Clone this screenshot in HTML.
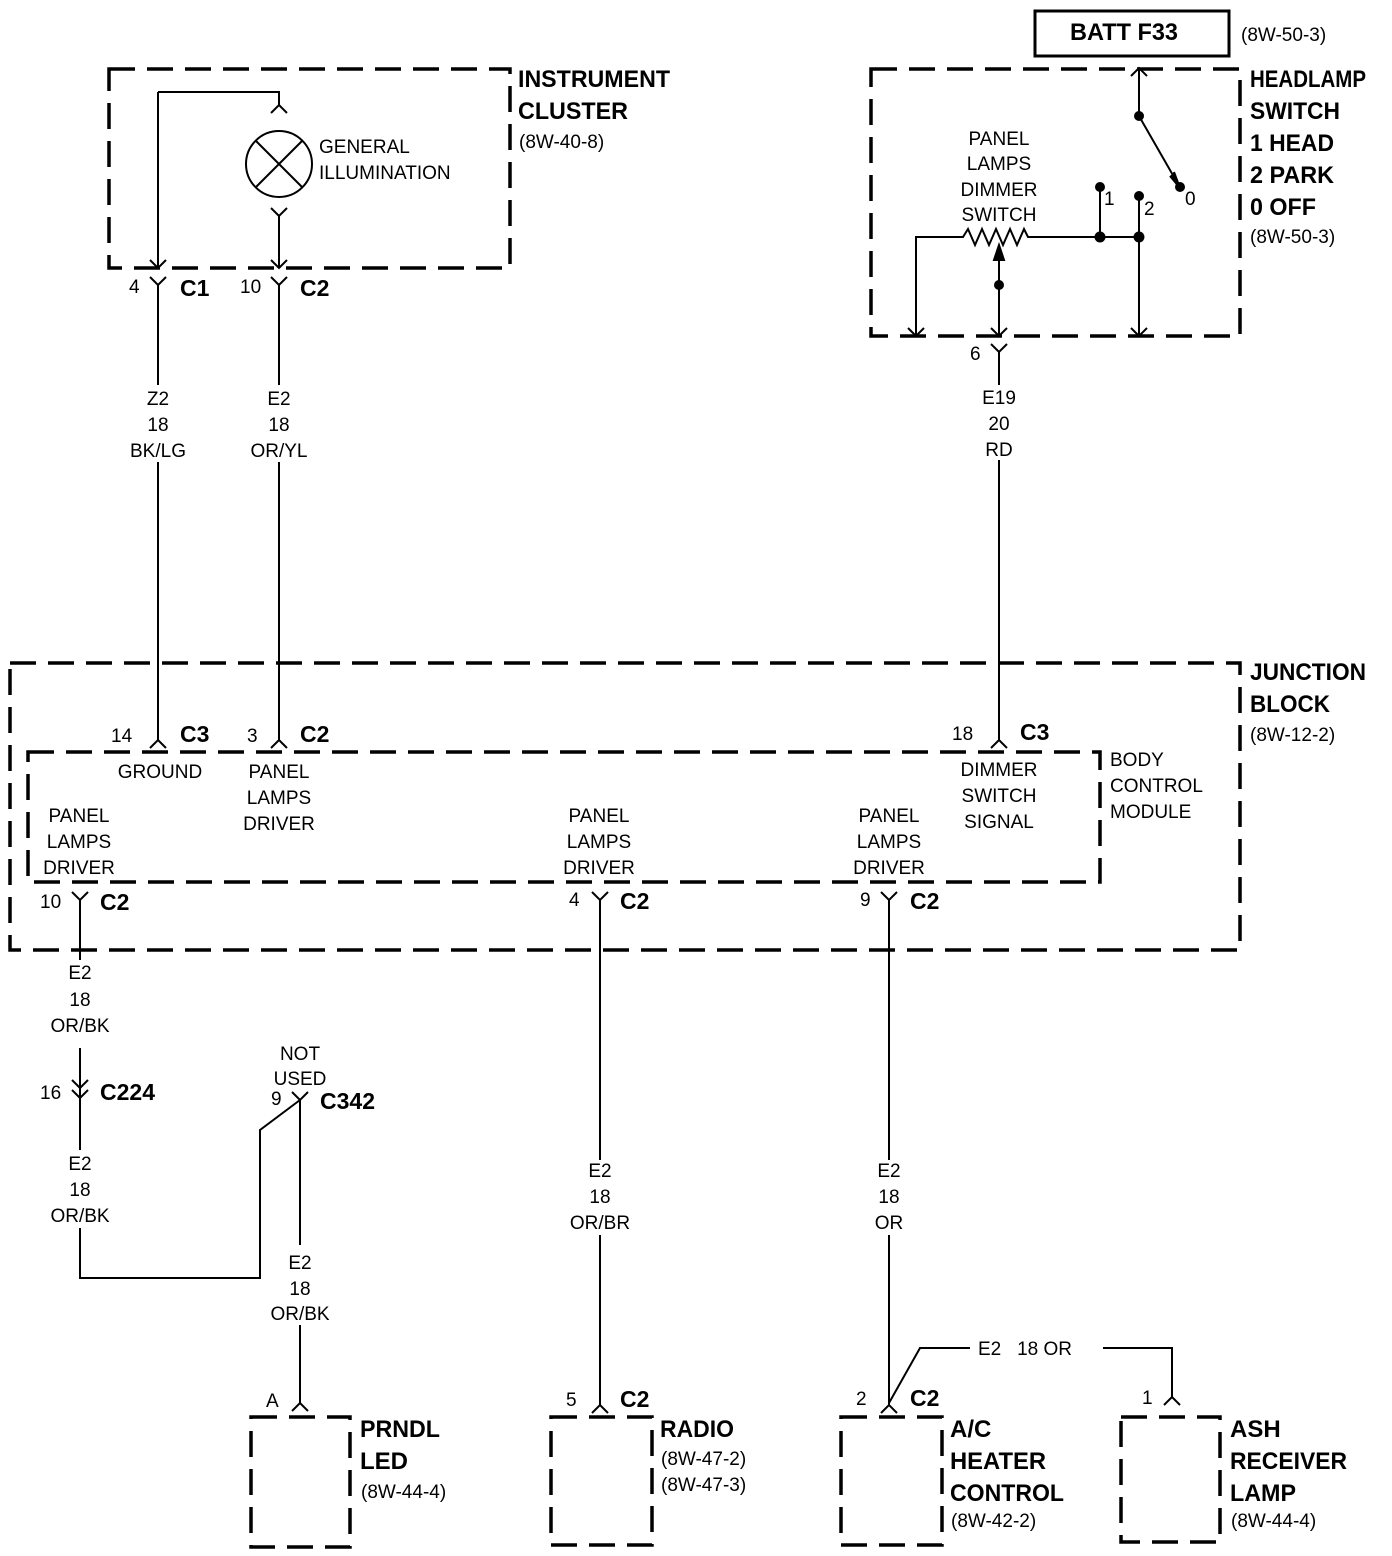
<!DOCTYPE html>
<html><head><meta charset="utf-8"><style>
html,body{margin:0;padding:0;background:#fff}
svg{display:block}
text{font-family:"Liberation Sans",sans-serif;fill:#000}
.s{font-size:19px}
.b{font-size:24px;font-weight:bold}
.c{font-size:23px;font-weight:bold}
</style></head><body>
<svg width="1392" height="1556" viewBox="0 0 1392 1556" xmlns="http://www.w3.org/2000/svg">
<g fill="none" stroke="#000" stroke-width="2">
<g stroke-width="3.5" stroke-dasharray="26,12">
<rect x="109" y="69" width="401" height="199"/>
<rect x="871" y="69" width="369" height="267"/>
<rect x="10" y="663" width="1230" height="287"/>
<rect x="28" y="752" width="1072" height="130"/>
<rect x="251" y="1417" width="99" height="130"/>
<rect x="551" y="1417" width="101" height="128"/>
<rect x="841" y="1417" width="101" height="128"/>
<rect x="1121" y="1417" width="99" height="125"/>
</g>
<rect x="1035" y="11" width="194" height="45" stroke-width="3"/>

<path d="M158 92 H279 V105 M271 113 L279 105 L287 113"/>
<circle cx="279" cy="164" r="33"/>
<path d="M256 141 L302 187 M302 141 L256 187"/>
<path d="M271 208 L279 216 L287 208 M279 216 V268 M271 260 L279 268 L287 260"/>
<path d="M158 92 V268 M150 260 L158 268 L166 260"/>
<path d="M150 277 L158 285 L166 277 M158 285 V385 M158 462 V740 M150 748 L158 740 L166 748"/>
<path d="M271 277 L279 285 L287 277 M279 285 V385 M279 462 V740 M271 748 L279 740 L287 748"/>

<path d="M1139 68 V116 L1178 184 M1131 76 L1139 68 L1147 76"/>
<path d="M1170 176 L1180 188 L1174 172" fill="#000"/>
<path d="M1100 187 V237 M1139 196 V336 M1131 328 L1139 336 L1147 328"/>
<path d="M916 336 V237 H963 L968 229 L975 245 L982 229 L989 245 L996 229 L1003 245 L1010 229 L1017 245 L1024 229 L1028 237 H1139 M908 328 L916 336 L924 328"/>
<path d="M999 336 V258 M991 328 L999 336 L1007 328"/>
<path d="M994 260 L999 245 L1004 260 Z" fill="#000"/>
<path d="M991 344 L999 352 L1007 344 M999 352 V385 M999 460 V740 M991 748 L999 740 L1007 748"/>

<path d="M72 892 L80 900 L88 892 M80 900 V960"/>
<path d="M592 892 L600 900 L608 892 M600 900 V1160 M600 1235 V1405 M592 1413 L600 1405 L608 1413"/>
<path d="M881 892 L889 900 L897 892 M889 900 V1160 M889 1235 V1405 M881 1413 L889 1405 L897 1413"/>
<path d="M80 1048 V1100 M72 1080 L80 1088 L88 1080 M72 1090 L80 1098 L88 1090 M80 1098 V1150 M80 1228 V1278 H260 V1130 L300 1100"/>
<path d="M292 1092 L300 1100 L308 1092 M300 1100 V1245 M300 1325 V1403 M292 1411 L300 1403 L308 1411"/>
<path d="M889 1403 L920 1348 H970 M1103 1348 H1172 V1397 M1164 1405 L1172 1397 L1180 1405"/>
</g>
<g fill="#000">
<circle cx="1139" cy="116" r="5"/><circle cx="1180" cy="187" r="5"/>
<circle cx="1100" cy="187" r="5"/><circle cx="1139" cy="196" r="5"/>
<circle cx="1100" cy="237" r="5.5"/><circle cx="1139" cy="237" r="5.5"/>
<circle cx="999" cy="285" r="5"/>
</g>

<text class="b" x="1070" y="40" textLength="108" lengthAdjust="spacingAndGlyphs">BATT F33</text>
<text class="s" x="1241" y="41">(8W-50-3)</text>
<text class="b" x="518" y="87" textLength="152" lengthAdjust="spacingAndGlyphs">INSTRUMENT</text>
<text class="b" x="518" y="119" textLength="110" lengthAdjust="spacingAndGlyphs">CLUSTER</text>
<text class="s" x="519" y="148">(8W-40-8)</text>
<text class="s" x="319" y="153">GENERAL</text>
<text class="s" x="319" y="179">ILLUMINATION</text>
<text class="s" x="129" y="293">4</text><text class="c" x="180" y="296">C1</text>
<text class="s" x="240" y="293">10</text><text class="c" x="300" y="296">C2</text>
<g class="s" text-anchor="middle">
<text x="158" y="405">Z2</text><text x="158" y="431">18</text><text x="158" y="457">BK/LG</text>
<text x="279" y="405">E2</text><text x="279" y="431">18</text><text x="279" y="457">OR/YL</text>
<text x="999" y="404">E19</text><text x="999" y="430">20</text><text x="999" y="456">RD</text>
<text x="999" y="145">PANEL</text><text x="999" y="170">LAMPS</text><text x="999" y="196">DIMMER</text><text x="999" y="221">SWITCH</text>
<text x="160" y="778">GROUND</text>
<text x="279" y="778">PANEL</text><text x="279" y="804">LAMPS</text><text x="279" y="830">DRIVER</text>
<text x="999" y="776">DIMMER</text><text x="999" y="802">SWITCH</text><text x="999" y="828">SIGNAL</text>
<text x="79" y="822">PANEL</text><text x="79" y="848">LAMPS</text><text x="79" y="874">DRIVER</text>
<text x="599" y="822">PANEL</text><text x="599" y="848">LAMPS</text><text x="599" y="874">DRIVER</text>
<text x="889" y="822">PANEL</text><text x="889" y="848">LAMPS</text><text x="889" y="874">DRIVER</text>
<text x="80" y="979">E2</text><text x="80" y="1006">18</text><text x="80" y="1032">OR/BK</text>
<text x="80" y="1170">E2</text><text x="80" y="1196">18</text><text x="80" y="1222">OR/BK</text>
<text x="300" y="1060">NOT</text><text x="300" y="1085">USED</text>
<text x="300" y="1269">E2</text><text x="300" y="1295">18</text><text x="300" y="1320">OR/BK</text>
<text x="600" y="1177">E2</text><text x="600" y="1203">18</text><text x="600" y="1229">OR/BR</text>
<text x="889" y="1177">E2</text><text x="889" y="1203">18</text><text x="889" y="1229">OR</text>
</g>
<text class="s" x="1104" y="205">1</text><text class="s" x="1144" y="215">2</text><text class="s" x="1185" y="205">0</text>
<text class="b" x="1250" y="87" textLength="116" lengthAdjust="spacingAndGlyphs">HEADLAMP</text>
<text class="b" x="1250" y="119" textLength="90" lengthAdjust="spacingAndGlyphs">SWITCH</text>
<text class="b" x="1250" y="151" textLength="84" lengthAdjust="spacingAndGlyphs">1 HEAD</text>
<text class="b" x="1250" y="183" textLength="84" lengthAdjust="spacingAndGlyphs">2 PARK</text>
<text class="b" x="1250" y="215" textLength="66" lengthAdjust="spacingAndGlyphs">0 OFF</text>
<text class="s" x="1250" y="243">(8W-50-3)</text>
<text class="s" x="970" y="360">6</text>
<text class="b" x="1250" y="680" textLength="116" lengthAdjust="spacingAndGlyphs">JUNCTION</text>
<text class="b" x="1250" y="712" textLength="80" lengthAdjust="spacingAndGlyphs">BLOCK</text>
<text class="s" x="1250" y="741">(8W-12-2)</text>
<text class="s" x="111" y="742">14</text><text class="c" x="180" y="742">C3</text>
<text class="s" x="247" y="742">3</text><text class="c" x="300" y="742">C2</text>
<text class="s" x="952" y="740">18</text><text class="c" x="1020" y="740">C3</text>
<text class="s" x="1110" y="766">BODY</text><text class="s" x="1110" y="792">CONTROL</text><text class="s" x="1110" y="818">MODULE</text>
<text class="s" x="40" y="908">10</text><text class="c" x="100" y="910">C2</text>
<text class="s" x="569" y="906">4</text><text class="c" x="620" y="909">C2</text>
<text class="s" x="860" y="906">9</text><text class="c" x="910" y="909">C2</text>
<text class="s" x="40" y="1099">16</text><text class="c" x="100" y="1100" textLength="55" lengthAdjust="spacingAndGlyphs">C224</text>
<text class="s" x="271" y="1105">9</text><text class="c" x="320" y="1109" textLength="55" lengthAdjust="spacingAndGlyphs">C342</text>
<text class="s" x="266" y="1407">A</text>
<text class="s" x="566" y="1406">5</text><text class="c" x="620" y="1407">C2</text>
<text class="s" x="856" y="1405">2</text><text class="c" x="910" y="1406">C2</text>
<text class="s" x="1142" y="1404">1</text>
<text class="s" x="978" y="1355">E2 &#160;&#160;18 OR</text>
<text class="b" x="360" y="1437" textLength="80" lengthAdjust="spacingAndGlyphs">PRNDL</text><text class="b" x="360" y="1469">LED</text>
<text class="s" x="361" y="1498">(8W-44-4)</text>
<text class="b" x="660" y="1437" textLength="74" lengthAdjust="spacingAndGlyphs">RADIO</text>
<text class="s" x="661" y="1465">(8W-47-2)</text><text class="s" x="661" y="1491">(8W-47-3)</text>
<text class="b" x="950" y="1437">A/C</text><text class="b" x="950" y="1469" textLength="96" lengthAdjust="spacingAndGlyphs">HEATER</text><text class="b" x="950" y="1501" textLength="114" lengthAdjust="spacingAndGlyphs">CONTROL</text>
<text class="s" x="951" y="1527">(8W-42-2)</text>
<text class="b" x="1230" y="1437">ASH</text><text class="b" x="1230" y="1469" textLength="117" lengthAdjust="spacingAndGlyphs">RECEIVER</text><text class="b" x="1230" y="1501" textLength="66" lengthAdjust="spacingAndGlyphs">LAMP</text>
<text class="s" x="1231" y="1527">(8W-44-4)</text>
</svg>
</body></html>
